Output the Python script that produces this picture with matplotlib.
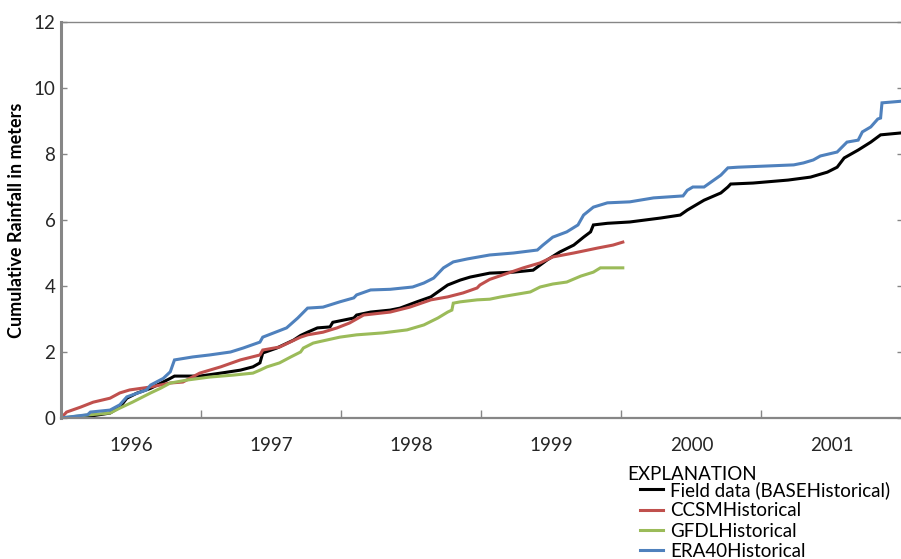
import matplotlib
matplotlib.use("Agg")
import matplotlib.pyplot as plt
import numpy as np

plt.rcParams['font.family'] = ['Lato', 'DejaVu Sans']

# Year offsets from 1996.0 and cumulative rainfall (m)
field_t = [0, 0.2, 0.35, 0.42, 0.47, 0.54, 0.64, 0.71, 0.78, 0.81, 0.99, 1.14, 1.28, 1.37, 1.42, 1.44,
           1.54, 1.66, 1.71, 1.76, 1.83, 1.92, 1.94, 2.09, 2.11, 2.21, 2.35, 2.42, 2.54, 2.64, 2.71, 2.76,
           2.85, 2.92, 3.06, 3.23, 3.37, 3.47, 3.56, 3.66, 3.73, 3.78, 3.80, 3.90, 4.06, 4.28, 4.42, 4.47,
           4.59, 4.71, 4.76, 4.78, 4.94, 5.19, 5.35, 5.47, 5.54, 5.59, 5.69, 5.78, 5.85, 6.0]
field_v = [0, 0.05, 0.15, 0.33, 0.6, 0.75, 0.9, 1.05, 1.2, 1.27, 1.27, 1.36, 1.45, 1.55, 1.67, 1.97,
           2.12, 2.36, 2.5, 2.6, 2.73, 2.76, 2.9, 3.03, 3.12, 3.21, 3.27, 3.33, 3.52, 3.67, 3.88, 4.03,
           4.18, 4.27, 4.39, 4.42, 4.48, 4.79, 5.03, 5.24, 5.48, 5.64, 5.85, 5.9, 5.94, 6.06, 6.15, 6.3,
           6.6, 6.82, 7.0, 7.09, 7.12, 7.21, 7.3, 7.45, 7.6, 7.88, 8.12, 8.36, 8.58, 8.64]

ccsm_t = [0, 0.04, 0.14, 0.23, 0.35, 0.42, 0.49, 0.64, 0.78, 0.87, 0.99, 1.14, 1.28, 1.42, 1.44, 1.56,
          1.71, 1.76, 1.87, 1.97, 2.06, 2.16, 2.35, 2.49, 2.64, 2.76, 2.87, 2.97, 2.99, 3.06, 3.19, 3.30,
          3.42, 3.51, 3.66, 3.83, 3.94, 4.01]
ccsm_v = [0, 0.18, 0.33, 0.48, 0.6, 0.76, 0.85, 0.94, 1.06, 1.09, 1.36, 1.55, 1.76, 1.91, 2.06, 2.15,
          2.45, 2.52, 2.6, 2.73, 2.88, 3.12, 3.21, 3.36, 3.58, 3.67, 3.79, 3.94, 4.03, 4.2, 4.39, 4.55,
          4.7, 4.88, 5.0, 5.15, 5.24, 5.33]

gfdl_t = [0, 0.21, 0.35, 0.42, 0.51, 0.64, 0.71, 0.78, 0.9, 1.06, 1.23, 1.37, 1.42, 1.47, 1.56, 1.64,
          1.71, 1.73, 1.80, 1.83, 1.99, 2.11, 2.30, 2.47, 2.59, 2.69, 2.76, 2.79, 2.80, 2.85, 2.97, 3.06,
          3.14, 3.35, 3.42, 3.51, 3.61, 3.71, 3.80, 3.85, 4.01]
gfdl_v = [0, 0.1, 0.15, 0.3, 0.48, 0.76, 0.9, 1.06, 1.15, 1.24, 1.3, 1.36, 1.45, 1.55, 1.67, 1.85,
          2.0, 2.12, 2.27, 2.3, 2.45, 2.52, 2.58, 2.67, 2.82, 3.03, 3.21, 3.27, 3.48, 3.52, 3.58, 3.6,
          3.67, 3.82, 3.97, 4.06, 4.12, 4.3, 4.42, 4.55, 4.55]

era_t = [0, 0.19, 0.21, 0.35, 0.42, 0.47, 0.61, 0.64, 0.73, 0.78, 0.81, 0.94, 1.06, 1.21, 1.30, 1.42,
         1.44, 1.61, 1.69, 1.76, 1.87, 1.99, 2.09, 2.11, 2.21, 2.35, 2.51, 2.59, 2.66, 2.73, 2.80, 2.90,
         3.06, 3.23, 3.40, 3.44, 3.51, 3.61, 3.69, 3.73, 3.80, 3.90, 4.06, 4.23, 4.44, 4.47, 4.51, 4.59,
         4.66, 4.71, 4.76, 4.83, 5.06, 5.23, 5.30, 5.37, 5.42, 5.54, 5.61, 5.69, 5.72, 5.78, 5.83, 5.85,
         5.86, 6.0]
era_v = [0, 0.1, 0.18, 0.24, 0.4, 0.64, 0.85, 1.0, 1.2, 1.4, 1.76, 1.85, 1.91, 2.0, 2.12, 2.3,
         2.45, 2.73, 3.03, 3.33, 3.36, 3.52, 3.64, 3.73, 3.88, 3.9, 3.97, 4.09, 4.24, 4.55, 4.73, 4.82,
         4.94, 5.0, 5.09, 5.24, 5.48, 5.64, 5.85, 6.15, 6.39, 6.52, 6.55, 6.67, 6.73, 6.9, 7.0, 7.0,
         7.21, 7.36, 7.58, 7.6, 7.64, 7.67, 7.73, 7.82, 7.94, 8.06, 8.36, 8.42, 8.67, 8.82, 9.06, 9.09,
         9.55, 9.6]

start_year = 1996
year_labels = ['1996', '1997', '1998', '1999', '2000', '2001']
yticks = [0, 2, 4, 6, 8, 10, 12]
series_names = ['Field data (BASEHistorical)', 'CCSMHistorical', 'GFDLHistorical', 'ERA40Historical']
colors = ['#000000', '#C0504D', '#9BBB59', '#4F81BD']

W, H = 901, 559
fig = plt.figure(figsize=(W / 100, H / 100), dpi=100)
ax = fig.add_axes([61 / W, (H - 418) / H, (903 - 61) / W, (418 - 22) / H])

lines = []
for (t, v), c, name in zip([(field_t, field_v), (ccsm_t, ccsm_v), (gfdl_t, gfdl_v), (era_t, era_v)],
                           colors, series_names):
    ln, = ax.plot(start_year + np.array(t), v, color=c, lw=2.2, solid_joinstyle='miter', label=name)
    lines.append(ln)

ax.set_xlim(start_year, start_year + 6.01)
ax.set_ylim(0, 12)

gray = '#868686'
ax.set_xticks([start_year + i for i in range(1, 6)])
ax.set_xticklabels([])
ax.set_xticks([start_year + i + 0.5 for i in range(6)], minor=True)
ax.set_xticklabels(year_labels, minor=True)
ax.tick_params(axis='x', which='major', direction='in', length=6, width=1, color=gray)
ax.tick_params(axis='x', which='minor', length=0, pad=14, labelsize=13.5, labelcolor='#262626')
ax.set_yticks(yticks)
ax.tick_params(axis='y', direction='in', length=4, width=1, color=gray, right=True,
               labelsize=13.5, labelcolor='#262626', pad=4)

ax.spines['left'].set_linewidth(2.2)
ax.spines['bottom'].set_linewidth(1.6)
ax.spines['top'].set_linewidth(1.0)
ax.spines['right'].set_linewidth(1.0)
for s in ax.spines.values():
    s.set_color(gray)

ax.set_ylabel('Cumulative Rainfall in meters', fontsize=13, fontweight='bold', labelpad=6)

fig.text(627 / W, 1 - 474 / H, 'EXPLANATION', fontsize=13.5, va='center', ha='left', color='#000000')
fig.legend(handles=lines, labels=series_names, loc='upper left',
           bbox_to_anchor=(640 / W, 1 - 481 / H), frameon=False, fontsize=13.5,
           handlelength=1.2, handletextpad=0.4, labelspacing=0.18, borderpad=0, borderaxespad=0)

fig.savefig('out.png', dpi=100)
